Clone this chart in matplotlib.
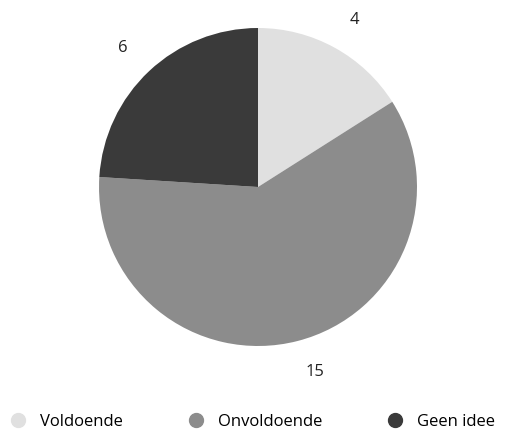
import matplotlib.pyplot as plt
from matplotlib.lines import Line2D

plt.rcParams["font.family"] = ["Open Sans", "DejaVu Sans"]

categories = ["Voldoende", "Onvoldoende", "Geen idee"]
values = [4, 15, 6]
colors = ["#e0e0e0", "#8c8c8c", "#3a3a3a"]

W, H = 505, 430
fig = plt.figure(figsize=(W / 100, H / 100), dpi=100)

cx, cy, r = 258, 187, 159
ax = fig.add_axes([(cx - r) / W, (H - cy - r) / H, 2 * r / W, 2 * r / H])

wedges, texts = ax.pie(values, colors=colors, startangle=90, counterclock=False,
                       labels=[str(v) for v in values], labeldistance=1.2,
                       textprops=dict(fontsize=12, color="#222222"),
                       wedgeprops=dict(linewidth=0))
ax.set_xlim(-1, 1)
ax.set_ylim(-1, 1)
ax.set_aspect("equal")
ax.axis("off")

handles = [Line2D([], [], marker="o", linestyle="", markersize=10,
                  markerfacecolor=c, markeredgecolor=c) for c in colors]
fig.legend(handles, categories, loc="center", bbox_to_anchor=(0.5, 1 - 422 / H),
           ncol=3, frameon=False, fontsize=12, handletextpad=0.8,
           columnspacing=3.9, handlelength=1.0)

fig.savefig("out.png", dpi=100)
